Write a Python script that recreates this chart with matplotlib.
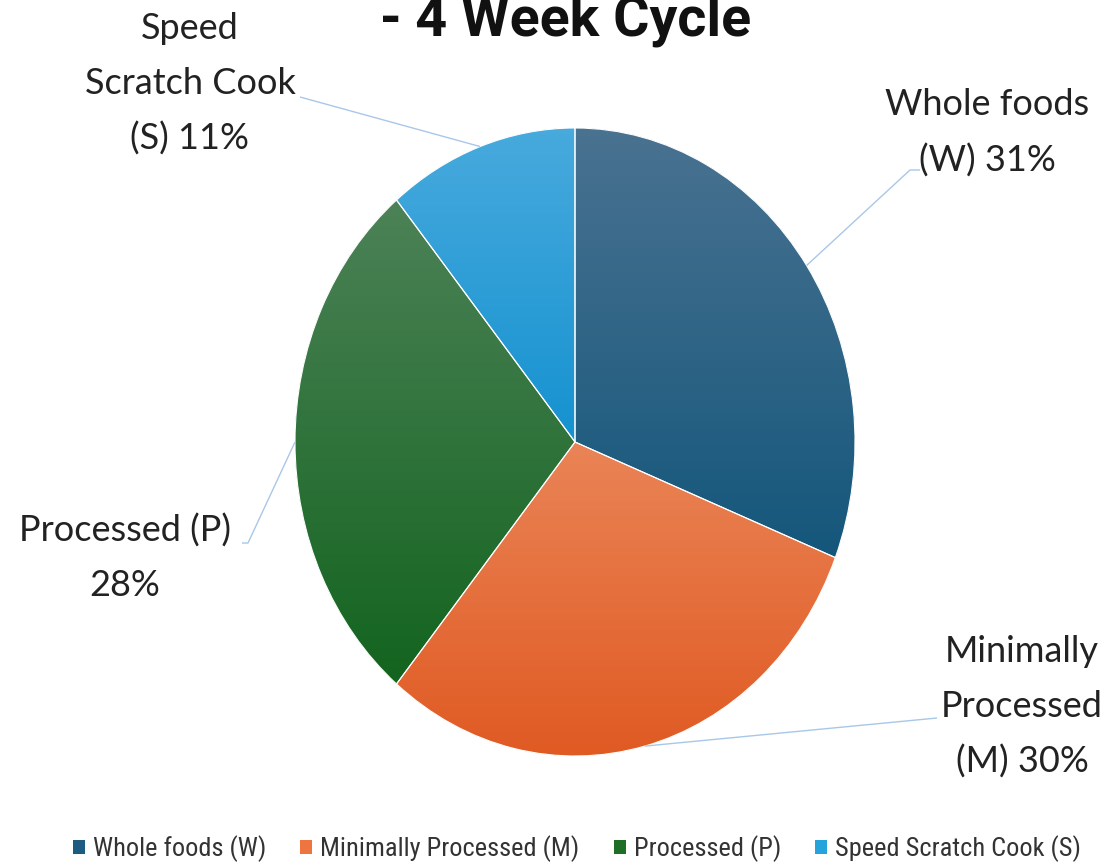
import numpy as np
import matplotlib
matplotlib.use("Agg")
import matplotlib.pyplot as plt
from matplotlib import font_manager
from matplotlib.colors import LinearSegmentedColormap
from matplotlib.patches import Patch, PathPatch

# ---- data -------------------------------------------------------------
categories = ["Whole foods (W)", "Minimally Processed (M)",
              "Processed (P)", "Speed Scratch Cook (S)"]
values = [31, 30, 28, 11]
slice_labels = ["Whole foods\n(W) {}%", "Minimally\nProcessed\n(M) {}%",
                "Processed (P)\n{}%", "Speed\nScratch Cook\n(S) {}%"]
title = "- 4 Week Cycle"

# gradient (top, bottom) and legend swatch colours per slice
grad_top = ["#4a7291", "#ea8456", "#4c8257", "#48aadd"]
grad_bottom = ["#14577b", "#e05a23", "#13641f", "#1592d0"]
swatch = ["#1d5c80", "#ee7440", "#1e6e28", "#27a3dc"]

# ---- fonts ------------------------------------------------------------
installed = {f.name for f in font_manager.fontManager.ttflist}
narrow = next((n for n in ["Roboto Condensed", "Liberation Sans Narrow", "Roboto"]
               if n in installed), "DejaVu Sans")
title_font = "Roboto" if "Roboto" in installed else "DejaVu Sans"
label_font = "Lato" if "Lato" in installed else "DejaVu Sans"

W, H = 1111, 866
fig = plt.figure(figsize=(W / 100, H / 100), dpi=100)
ax = fig.add_axes([0, 0, 1, 1])

# pie geometry in pixels (centre and the two radii of the stretched pie)
cx, cy, rx, ry = 575, 442, 280, 314


def px(x, y):
    """pixel position -> data coordinates of the pie axes"""
    return (x - cx) / rx, (cy - y) / ry


wedges, _ = ax.pie(values, startangle=90, counterclock=False, radius=1,
                   colors=swatch, wedgeprops=dict(linewidth=0, zorder=1))
ax.set_aspect("auto")
ax.set_xlim(-cx / rx, (W - cx) / rx)
ax.set_ylim((cy - H) / ry, cy / ry)
ax.axis("off")

# vertical gradient inside each slice
ramp = np.linspace(0, 1, 256).reshape(-1, 1)
for w, top, bot in zip(wedges, grad_top, grad_bottom):
    ext = w.get_path().get_extents()
    cmap = LinearSegmentedColormap.from_list("g", [top, bot])
    im = ax.imshow(ramp, cmap=cmap, aspect="auto", origin="upper",
                   extent=(ext.x0, ext.x1, ext.y0, ext.y1), zorder=2,
                   interpolation="bilinear")
    im.set_clip_path(w)
    ax.add_patch(PathPatch(w.get_path(), facecolor="none", edgecolor="white",
                           linewidth=0.8, zorder=3))

# leader lines: rim anchor at slice mid-angle, then elbow points in pixels
elbows = [
    [(910, 170), (920, 170)],
    [(937, 718)],
    [(248, 543), (242, 543)],
    [(300, 97)],
]
label_pos = [(987, 133), (1022, 707), (125, 558), (190, 84)]
leader_col = "#a9c7e8"
for w, v, fmt, pts, (lx, ly) in zip(wedges, values, slice_labels, elbows, label_pos):
    mid = np.deg2rad((w.theta1 + w.theta2) / 2)
    xs = [np.cos(mid)] + [px(*p)[0] for p in pts]
    ys = [np.sin(mid)] + [px(*p)[1] for p in pts]
    ax.plot(xs, ys, color=leader_col, lw=1.0, zorder=4, solid_capstyle="butt")
    tx, ty = px(lx, ly)
    ax.text(tx, ty, fmt.format(v), ha="center", va="center", fontsize=26,
            family=label_font, color="#222222", linespacing=1.8, zorder=5)

# title (its upper part runs off the top edge)
ax.text(*px(566, 36), title, ha="center", va="baseline", fontsize=40,
        fontweight="bold", family=title_font, color="#111111")

# legend
handles = [Patch(facecolor=c, edgecolor="none") for c in swatch]
fig.legend(handles, categories, loc="center", ncol=4,
           bbox_to_anchor=(577 / W, 1 - 849 / H), frameon=False,
           prop=dict(family=narrow, size=19), handlelength=0.45,
           handleheight=0.45, handletextpad=0.3, columnspacing=1.3,
           labelcolor="#333333")

fig.savefig("out.png", dpi=100)
